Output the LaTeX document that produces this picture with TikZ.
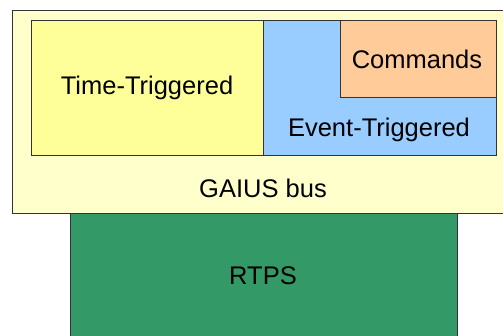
\documentclass[tikz,border=0pt]{standalone}
\usepackage{fontspec}
\setmainfont{Liberation Sans}
\definecolor{busfill}{HTML}{FFFFCC}
\definecolor{ttfill}{HTML}{FFFF99}
\definecolor{etfill}{HTML}{99CCFF}
\definecolor{cmdfill}{HTML}{FFCC99}
\definecolor{rtpsfill}{HTML}{339966}
\tikzset{layer/.style={draw=black!80, line width=1pt, inner sep=0pt}}

\begin{document}
\begin{tikzpicture}[x=1pt,y=-1pt,font=\fontsize{25.5}{30}\selectfont]
\useasboundingbox (0,0) rectangle (503,336);
\clip (0,0) rectangle (503,336);
\begin{scope}
\draw[layer, fill=rtpsfill] (70,205) rectangle (457,345);
\draw[layer, fill=busfill] (12,11) rectangle (512,214);
\draw[layer, fill=ttfill] (31,21) rectangle (263,156);
\draw[layer, fill=etfill] (263,21) rectangle (496,156);
\draw[layer, fill=cmdfill] (340,21) rectangle (496,98);
%\draw[help lines] (0,0) grid (503,336);
\node (bus) at (263,188) {GAIUS bus};
\node (tt) at (147,88) {Time-Triggered};
\node (et) at (379,130) {Event-Triggered};
\node (cmd) at (417,59) {Commands};
\node (rtps) at (263,276) {RTPS};
\end{scope}
\end{tikzpicture}
\end{document}
